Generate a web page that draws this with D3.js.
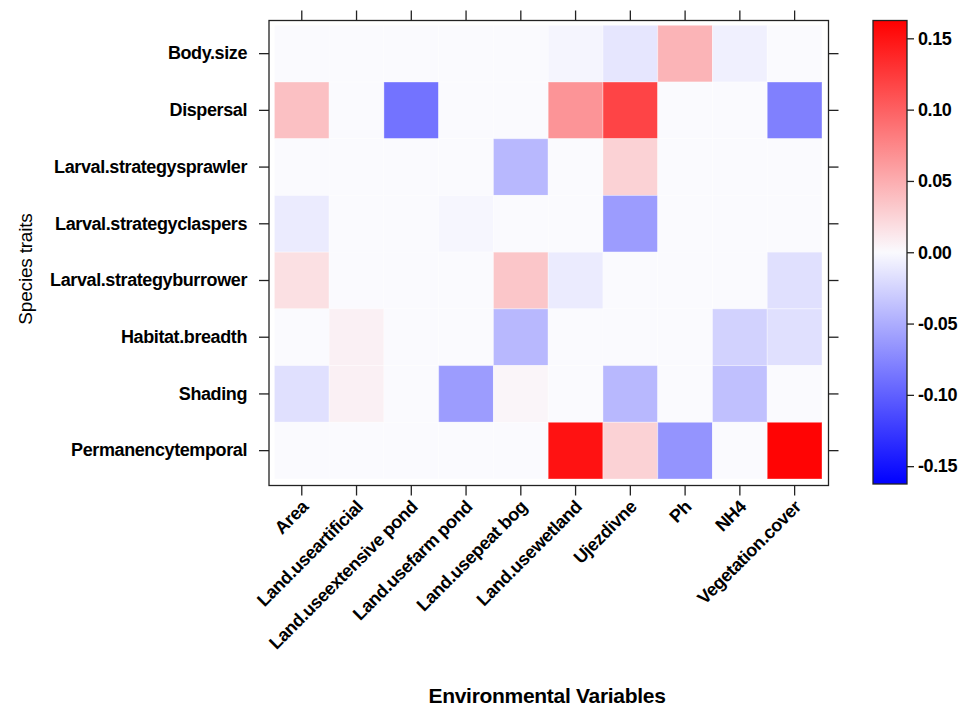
<!DOCTYPE html>
<html>
<head>
<meta charset="utf-8">
<script src="https://cdn.jsdelivr.net/npm/d3@7"></script>
<style>
  html, body { margin: 0; padding: 0; background: #fff; }
  svg { display: block; }
  .tick text { font-family: "Liberation Sans", Arial, sans-serif; font-weight: bold; font-size: 18px; letter-spacing: -0.4px; fill: #000; }
</style>
</head>
<body>
<script>
// ---- data ----
const columns = ["Area", "Land.useartificial", "Land.useextensive pond", "Land.usefarm pond",
  "Land.usepeat bog", "Land.usewetland", "Ujezdivne", "Ph", "NH4", "Vegetation.cover"];
const rows = ["Body.size", "Dispersal", "Larval.strategysprawler", "Larval.strategyclaspers",
  "Larval.strategyburrower", "Habitat.breadth", "Shading", "Permanencytemporal"];
const bodySize    = [0, 0, 0, 0, 0, -0.003, -0.013, 0.0455, -0.0065, 0];
const dispersal   = [0.038, 0, -0.088, 0, 0, 0.066, 0.118, 0, 0, -0.079];
const sprawler    = [0, 0, 0, 0, -0.043, 0, 0.026, 0, 0, 0];
const claspers    = [-0.0098, 0, 0, -0.0026, 0, 0, -0.061, 0, 0, 0];
const burrower    = [0.017, 0, 0, 0, 0.034, -0.0098, 0, 0, 0, -0.017];
const habitat     = [0, 0.0065, 0, 0, -0.043, 0, 0, 0, -0.026, -0.017];
const shading     = [-0.017, 0.0065, 0, -0.061, 0.0033, 0, -0.043, 0, -0.038, 0];
const permanency  = [0, 0, 0, 0, 0, 0.151, 0.026, -0.066, 0, 0.16];
const rowValues = [bodySize, dispersal, sprawler, claspers, burrower, habitat, shading, permanency];
const colorTicks = [0.15, 0.10, 0.05, 0.00, -0.05, -0.10, -0.15];
const colorLimit = 0.1625;
const xTitle = "Environmental Variables";
const yTitle = "Species traits";

// ---- layout ----
const W = 970, H = 708;
const box = { left: 269, right: 828.5, top: 20.5, bottom: 485.5 };
const cellX = [274.4, 822];
const cellY = [25.3, 479];

const svg = d3.select("body").append("svg").attr("width", W).attr("height", H);
svg.append("rect").attr("width", W).attr("height", H).attr("fill", "#fff");

const x = d3.scaleBand().domain(columns).range(cellX).padding(0);
const y = d3.scaleBand().domain(rows).range(cellY).padding(0);
const color = d3.scaleLinear().domain([-colorLimit, 0, colorLimit])
  .range(["#0000FF", "#FAFAFE", "#FF0000"]).clamp(true);

const cells = [];
rows.forEach((r, i) => columns.forEach((c, j) => cells.push({ r, c, v: rowValues[i][j] })));

svg.append("g").selectAll("rect").data(cells).join("rect")
  .attr("x", d => x(d.c)).attr("y", d => y(d.r))
  .attr("width", x.bandwidth()).attr("height", y.bandwidth())
  .attr("fill", d => color(d.v))
  .attr("stroke", "#fff").attr("stroke-opacity", 0.35).attr("stroke-width", 1);

// frame
svg.append("rect").attr("x", box.left).attr("y", box.top)
  .attr("width", box.right - box.left).attr("height", box.bottom - box.top)
  .attr("fill", "none").attr("stroke", "#222").attr("stroke-width", 1.3);

function styleAxis(g) {
  g.select(".domain").remove();
  g.selectAll(".tick line").attr("stroke", "#222").attr("stroke-width", 1.3);
}

// left axis with labels
svg.append("g").attr("transform", `translate(${box.left},0)`)
  .call(d3.axisLeft(y).tickSize(10).tickPadding(12))
  .call(styleAxis);
// right axis ticks only
svg.append("g").attr("transform", `translate(${box.right},0)`)
  .call(d3.axisRight(y).tickSize(10).tickFormat(""))
  .call(styleAxis);
// top axis ticks only
svg.append("g").attr("transform", `translate(0,${box.top})`)
  .call(d3.axisTop(x).tickSize(10).tickFormat(""))
  .call(styleAxis);
// bottom axis with rotated labels
const bx = svg.append("g").attr("transform", `translate(0,${box.bottom})`)
  .call(d3.axisBottom(x).tickSize(10))
  .call(styleAxis);
bx.selectAll(".tick text")
  .attr("text-anchor", "end")
  .attr("x", 0).attr("y", 0).attr("dy", "0.35em")
  .attr("transform", "translate(3,18) rotate(-45)");

// axis titles
svg.append("text").attr("x", 547).attr("y", 703)
  .attr("text-anchor", "middle")
  .style("font-family", "'Liberation Sans', Arial, sans-serif")
  .style("font-weight", "bold").style("font-size", "21px").style("letter-spacing", "-0.3px")
  .text(xTitle);
svg.append("text").attr("transform", "translate(32,269) rotate(-90)")
  .attr("text-anchor", "middle")
  .style("font-family", "'Liberation Sans', Arial, sans-serif")
  .style("font-size", "19px").style("letter-spacing", "-0.2px")
  .text(yTitle);

// colour key
const key = { x: 873, w: 34, top: 20.5, bottom: 484 };
const ky = d3.scaleLinear().domain([-colorLimit, colorLimit]).range([key.bottom, key.top]);
const defs = svg.append("defs");
const grad = defs.append("linearGradient").attr("id", "keygrad")
  .attr("x1", 0).attr("y1", 1).attr("x2", 0).attr("y2", 0);
d3.range(0, 1.0001, 0.05).forEach(t => {
  grad.append("stop").attr("offset", t)
    .attr("stop-color", color(-colorLimit + t * 2 * colorLimit));
});
svg.append("rect").attr("x", key.x).attr("y", key.top)
  .attr("width", key.w).attr("height", key.bottom - key.top)
  .attr("fill", "url(#keygrad)").attr("stroke", "#222").attr("stroke-width", 1.3);
const kaxis = svg.append("g").attr("transform", `translate(${key.x + key.w},0)`)
  .call(d3.axisRight(ky).tickValues(colorTicks).tickSize(7).tickPadding(4)
    .tickFormat(d => d3.format(".2f")(d).replace("−", "-")))
  .call(styleAxis);
</script>
</body>
</html>
